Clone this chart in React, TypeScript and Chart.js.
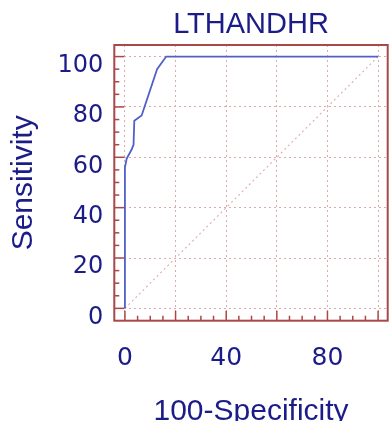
import React, { useEffect, useRef } from "react";
import { Chart, registerables } from "chart.js";

Chart.register(...registerables);

const TITLE = "LTHANDHR";
const X_TITLE = "100-Specificity";
const Y_TITLE = "Sensitivity";

// ROC curve points (100-Specificity, Sensitivity)
const rocX = [0, 0, 0.7, 2.6, 3.4, 3.7, 6.6, 12.7, 16.3, 100];
const rocY = [0, 56, 59.5, 63, 65, 74.5, 76.6, 95, 100, 100];

// reference diagonal
const diagX = [0, 100];
const diagY = [0, 100];

const GRID_TICKS = [0, 20, 40, 60, 80, 100];
const X_LABELED = [0, 40, 80];
const MINOR_TICKS = [0, 5, 10, 15, 20, 25, 30, 35, 40, 45, 50, 55, 60, 65, 70, 75, 80, 85, 90, 95, 100];

const NAVY = "#1c1c88";
const FRAME = "#a84848";
const GRID = "#dcaaaa";
const CURVE = "#5060c8";
const DIAG = "#e4b0b0";

const frameTicks = {
  id: "frameTicks",
  afterDatasetsDraw(chart: any) {
    const { ctx, chartArea, scales } = chart;
    const { left, right, top, bottom } = chartArea;
    const xs = scales.x;
    const ys = scales.y;
    ctx.save();
    ctx.strokeStyle = FRAME;
    ctx.lineWidth = 1.5;
    for (const v of MINOR_TICKS) {
      const len = GRID_TICKS.includes(v) ? 10 : 5;
      const py = ys.getPixelForValue(v);
      ctx.beginPath();
      ctx.moveTo(left, py);
      ctx.lineTo(left + len, py);
      ctx.stroke();
      const px = xs.getPixelForValue(v);
      ctx.beginPath();
      ctx.moveTo(px, bottom);
      ctx.lineTo(px, bottom - len);
      ctx.stroke();
    }
    ctx.lineWidth = 2;
    ctx.strokeRect(left, top, right - left, bottom - top);
    ctx.restore();
  },
};

export default function App() {
  const ref = useRef<HTMLCanvasElement | null>(null);

  useEffect(() => {
    if (!ref.current) return;
    const chart = new Chart(ref.current, {
      type: "line",
      data: {
        datasets: [
          {
            data: rocX.map((x, i) => ({ x, y: rocY[i] })),
            borderColor: CURVE,
            borderWidth: 1.8,
            pointRadius: 0,
            tension: 0,
            fill: false,
          },
          {
            data: diagX.map((x, i) => ({ x, y: diagY[i] })),
            borderColor: DIAG,
            borderWidth: 1.2,
            borderDash: [2, 3],
            pointRadius: 0,
            fill: false,
          },
        ],
      },
      options: {
        responsive: false,
        animation: false,
        layout: { padding: { left: 0, right: 2.3, top: 0, bottom: 0 } },
        plugins: {
          legend: { display: false },
          tooltip: { enabled: false },
          title: {
            display: true,
            fullSize: false,
            text: TITLE,
            color: NAVY,
            font: { family: "'Liberation Sans', Arial, sans-serif", size: 29, weight: "normal" },
            padding: { top: 8, bottom: 2.2 },
          },
        },
        scales: {
          x: {
            type: "linear",
            min: -4.2,
            max: 103.8,
            afterBuildTicks: (s: any) => {
              s.ticks = GRID_TICKS.map((v) => ({ value: v }));
            },
            afterFit: (s: any) => {
              s.height = 100.3;
              s.paddingLeft = 0;
              s.paddingRight = 0;
            },
            grid: { color: GRID, lineWidth: 1, drawTicks: false },
            border: { display: false, dash: [2, 3] },
            ticks: {
              color: NAVY,
              padding: 23,
              maxRotation: 0,
              autoSkip: false,
              font: { family: "'DejaVu Sans', sans-serif", size: 25 },
              callback: (v: any) => (X_LABELED.includes(Number(v)) ? String(v) : ""),
            },
            title: {
              display: true,
              text: X_TITLE,
              color: NAVY,
              font: { family: "'Liberation Sans', Arial, sans-serif", size: 30 },
              padding: { top: 0, bottom: -9 },
            },
          },
          y: {
            type: "linear",
            min: -4.9,
            max: 104.6,
            afterBuildTicks: (s: any) => {
              s.ticks = GRID_TICKS.map((v) => ({ value: v }));
            },
            afterFit: (s: any) => {
              s.width = 114.3;
              s.paddingTop = 0;
              s.paddingBottom = 0;
            },
            grid: { color: GRID, lineWidth: 1, drawTicks: false },
            border: { display: false, dash: [2, 3] },
            ticks: {
              color: NAVY,
              padding: 11,
              labelOffset: 9,
              autoSkip: false,
              font: { family: "'DejaVu Sans', sans-serif", size: 24 },
              callback: (v: any) => String(v),
            },
            title: {
              display: true,
              text: Y_TITLE,
              color: NAVY,
              font: { family: "'Liberation Sans', Arial, sans-serif", size: 30 },
              padding: { top: 6, bottom: 0 },
            },
          },
        },
      },
      plugins: [frameTicks],
    });
    return () => chart.destroy();
  }, []);

  return (
    <div style={{ position: "fixed", left: 0, top: 0, width: 390, height: 421, background: "#fff" }}>
      <canvas ref={ref} width={390} height={421} style={{ display: "block" }} />
    </div>
  );
}
